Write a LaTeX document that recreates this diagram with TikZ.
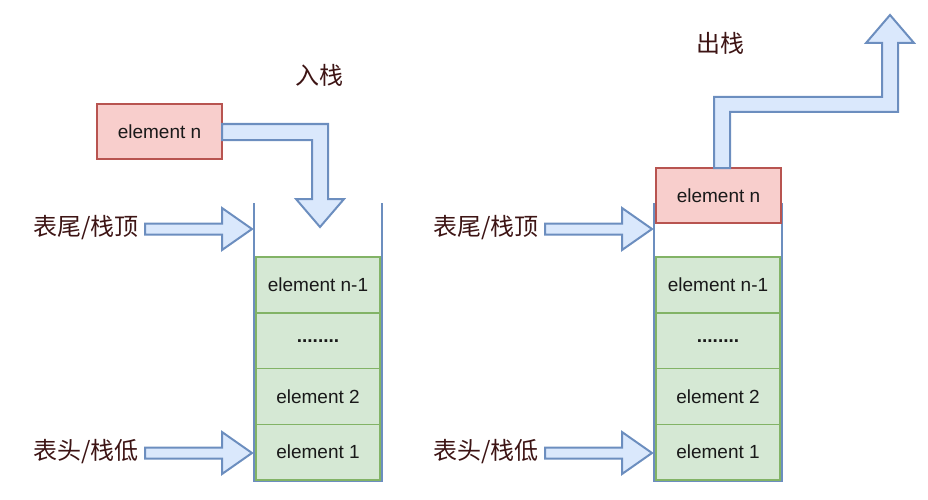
\documentclass[tikz,border=0pt]{standalone}
\usepackage{fontspec}
\setmainfont{Liberation Sans}
\newfontfamily\cjk{Noto Sans CJK SC}
\usepackage{tikz}
\usetikzlibrary{calc}
\definecolor{grnfill}{HTML}{D5E8D4}
\definecolor{grnline}{HTML}{82B366}
\definecolor{redfill}{HTML}{F8CECC}
\definecolor{redline}{HTML}{B85450}
\definecolor{bluefill}{HTML}{DAE8FC}
\definecolor{blueline}{HTML}{6C8EBF}
\definecolor{labtext}{HTML}{3D1414}

\begin{document}
\begin{tikzpicture}[x=1pt,y=-1pt]
  \def\GCOL{grnfill}
  \def\GSTR{grnline}
  \def\RCOL{redfill}
  \def\RSTR{redline}
  \def\BCOL{bluefill}
  \def\BSTR{blueline}
  \tikzstyle{cel} = [draw=\GSTR,fill=\GCOL,line width=1.5pt,minimum width=124pt,minimum height=55.75pt,inner sep=0pt,outer sep=0pt,anchor=south,text=black!90,font=\fontsize{19}{22}\selectfont]
  \tikzstyle{topbox} = [draw=\RSTR,fill=\RCOL,line width=1.5pt,minimum width=125pt,minimum height=55pt,inner sep=0pt,outer sep=0pt,text=black!90,font=\fontsize{19}{22}\selectfont]
  \tikzstyle{stk} = [minimum width=128pt,minimum height=278pt,inner sep=0pt,outer sep=0pt]
  \tikzstyle{wall} = [draw=\BSTR,line width=2pt]
  \tikzstyle{blk} = [draw=\BSTR,fill=\BCOL,line width=2pt,line join=miter]
  \tikzstyle{lab} = [text=labtext,inner sep=0pt,font=\cjk\fontsize{24}{28}\selectfont]
  \useasboundingbox (0,0) rectangle (928,500);

  % left stack: push
  \node[stk] (SL) at (318,342) {};
  \draw[wall] (SL.north west) |- (SL.south east) -- (SL.north east);
  \node[cel] (C1L) at (318,480) {element 1};
  \node[cel] (C2L) at (C1L.north) {element 2};
  \node[cel] (C3L) at (C2L.north) {\textbf{........}};
  \node[cel] (C4L) at (C3L.north) {element n-1};
  \node[topbox] (NL) at (159.5,131.5) {element n};

  \draw[blk] (NL.east) ++(0,-7.5) -- ++(106,0) -- ++(0,75) -- ++(16,0) -- ++(-24,28) -- ++(-24,-28) -- ++(16,0) -- ++(0,-59) -- ++(-90,0) -- cycle;
  \draw[blk] (SL.north west) ++(-2,26) -- ++(-30,-21) -- ++(0,15.5) -- ++(-77,0) -- ++(0,11) -- ++(77,0) -- ++(0,15.5) -- cycle;
  \draw[blk] (SL.south west) ++(-2,-28) -- ++(-30,-21) -- ++(0,15.5) -- ++(-77,0) -- ++(0,11) -- ++(77,0) -- ++(0,15.5) -- cycle;

  \node[lab] (PU) at (319,75) {入栈};
  \node[lab] (TL) at (86,228) {表尾/栈顶};
  \node[lab] (HL) at (86,452) {表头/栈低};

  % right stack: pop
  \node[stk] (SR) at (718,342) {};
  \draw[wall] (SR.north west) |- (SR.south east) -- (SR.north east);
  \node[cel] (C1R) at (718,480) {element 1};
  \node[cel] (C2R) at (C1R.north) {element 2};
  \node[cel] (C3R) at (C2R.north) {\textbf{........}};
  \node[cel] (C4R) at (C3R.north) {element n-1};
  \node[topbox] (NR) at (718.5,195.5) {element n};

  \draw[blk] (NR.north) ++(-4.5,0) -- ++(0,-71) -- ++(168,0) -- ++(0,-54) -- ++(-16,0) -- ++(24,-28) -- ++(24,28) -- ++(-16,0) -- ++(0,69) -- ++(-168,0) -- ++(0,56) -- cycle;
  \draw[blk] (SR.north west) ++(-2,26) -- ++(-30,-21) -- ++(0,15.5) -- ++(-77,0) -- ++(0,11) -- ++(77,0) -- ++(0,15.5) -- cycle;
  \draw[blk] (SR.south west) ++(-2,-28) -- ++(-30,-21) -- ++(0,15.5) -- ++(-77,0) -- ++(0,11) -- ++(77,0) -- ++(0,15.5) -- cycle;

  \node[lab] (PO) at (720,43) {出栈};
  \node[lab] (TR) at (486,228) {表尾/栈顶};
  \node[lab] (HR) at (486,452) {表头/栈低};
\end{tikzpicture}
\end{document}
